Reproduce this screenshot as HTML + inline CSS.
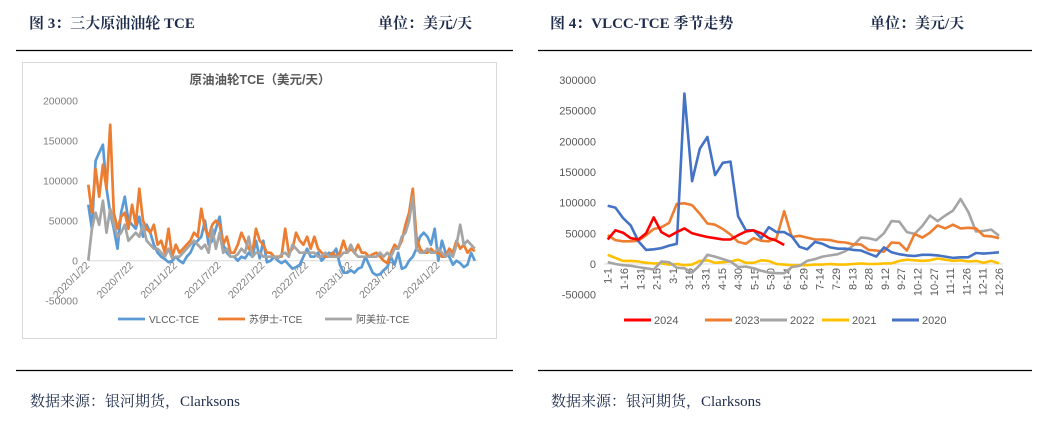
<!DOCTYPE html>
<html><head><meta charset="utf-8">
<style>
body{margin:0;background:#fff;width:1044px;height:427px;overflow:hidden;font-family:"Liberation Serif","Noto Serif CJK SC",serif;}
svg{position:absolute;left:0;top:0}
</style></head>
<body>
<svg id="s" width="1044" height="427" xmlns="http://www.w3.org/2000/svg">
<text x="29" y="28" font-size="15" font-weight="bold" fill="#1f2d4d" font-family="Liberation Serif, Noto Serif CJK SC, serif">图 3：三大原油油轮 TCE</text>
<text x="378" y="28" font-size="15" font-weight="bold" fill="#1f2d4d" font-family="Liberation Serif, Noto Serif CJK SC, serif">单位：美元/天</text>
<text x="550" y="28" font-size="15" font-weight="bold" fill="#1f2d4d" font-family="Liberation Serif, Noto Serif CJK SC, serif">图 4：VLCC-TCE 季节走势</text>
<text x="870" y="28" font-size="15" font-weight="bold" fill="#1f2d4d" font-family="Liberation Serif, Noto Serif CJK SC, serif">单位：美元/天</text>
<line x1="16" y1="50.5" x2="513" y2="50.5" stroke="#000" stroke-width="1.3"/>
<line x1="538" y1="50.5" x2="1032" y2="50.5" stroke="#000" stroke-width="1.3"/>
<line x1="16" y1="370.5" x2="513" y2="370.5" stroke="#000" stroke-width="1.3"/>
<line x1="538" y1="370.5" x2="1032" y2="370.5" stroke="#000" stroke-width="1.3"/>
<text x="30" y="406" font-size="15" fill="#1f2d4d">数据来源：银河期货，Clarksons</text>
<text x="551" y="406" font-size="15" fill="#1f2d4d">数据来源：银河期货，Clarksons</text>
<rect x="22.5" y="62.5" width="474" height="276" fill="none" stroke="#d9d9d9"/>
<text x="260" y="84" font-size="12.5" font-weight="bold" fill="#595959" text-anchor="middle" font-family="Liberation Sans, Noto Sans CJK SC, sans-serif">原油油轮TCE（美元/天）</text>
<g id="L"></g><g id="R"></g>
</svg>
<script>
const leftTicks=[-50000,0,50000,100000,150000,200000];
const leftDateLabels=["2020/1/22","2020/7/22","2021/1/22","2021/7/22","2022/1/22","2022/7/22","2023/1/22","2023/7/22","2024/1/22"];
const vlcc=[70,40,125,135,145,90,60,40,15,60,80,50,45,40,55,30,45,35,20,10,5,2,-2,0,5,0,-3,5,10,20,25,30,50,20,25,40,55,20,10,5,5,0,5,3,10,5,25,3,25,-2,0,5,0,-3,0,-5,-10,-8,-5,5,15,5,5,10,0,5,10,8,15,-5,-15,-15,-12,-15,-10,-8,5,-5,-15,-18,-17,-12,-8,5,-5,10,-10,-8,0,5,15,30,35,30,20,40,0,25,10,5,-5,0,-3,-8,-5,10,0];
const suez=[95,60,115,80,120,90,170,60,40,55,60,40,70,45,90,50,40,35,45,20,25,10,40,5,20,10,15,20,25,35,30,65,40,30,45,50,45,20,30,10,10,20,35,25,15,10,40,25,20,10,10,5,5,5,40,10,15,35,25,20,30,15,30,15,10,5,5,10,5,10,25,10,15,10,20,10,10,5,8,10,5,0,-3,10,20,15,25,45,60,90,30,15,10,10,15,10,10,5,5,15,10,25,15,20,10,15,12];
const aframax=[0,40,60,45,75,35,65,45,30,35,45,25,30,35,30,45,25,20,15,15,10,5,15,3,5,5,10,15,20,25,20,15,20,10,40,15,35,10,15,5,5,8,15,10,30,5,10,10,5,5,5,5,3,8,10,5,20,15,10,10,10,10,10,5,5,10,5,5,5,5,10,10,20,10,5,5,5,5,5,5,10,5,10,5,15,15,30,35,50,80,15,10,10,15,10,10,15,10,5,10,5,20,45,20,25,20,15];
const rightTicks=[-50000,0,50000,100000,150000,200000,250000,300000];
const rightDateLabels=["1-1","1-16","1-31","2-15","3-1","3-16","3-31","4-15","4-30","5-15","5-30","6-14","6-29","7-14","7-29","8-13","8-28","9-12","9-27","10-12","10-27","11-11","11-26","12-11","12-26"];
const y2024=[40,55,51,42,40,50,76,52,45,52,58,50,47,44,42,40,40,47,53,55,50,42,38,31];
const y2023=[47,39,37,37,38,47,57,60,67,98,99,96,82,66,64,57,48,36,33,42,38,37,42,86,44,46,43,40,40,39,36,35,32,32,23,22,20,35,34,22,49,43,51,63,58,64,58,59,58,46,45,42];
const y2022=[3,0,-2,-3,-5,-7,-9,4,3,-6,-7,-14,-2,15,12,8,4,-5,-4,-7,-11,-14,-15,-15,-5,-3,5,8,12,14,16,21,30,43,42,39,50,70,69,52,49,62,79,70,79,87,106,85,53,54,56,46];
const y2021=[15,10,5,5,4,2,1,1,-1,0,-2,-1,5,6,2,3,4,7,2,2,6,5,0,-1,-2,-2,-2,-1,-1,0,-1,-1,0,1,0,0,1,1,5,7,6,5,6,9,7,5,6,4,5,2,5,1];
const y2020=[95,92,75,63,37,23,24,26,30,33,278,135,188,207,145,165,167,78,55,55,42,60,52,52,45,28,24,36,33,27,25,25,23,22,17,12,27,19,16,14,13,15,15,14,12,10,11,11,18,17,18,19];

const NS="http://www.w3.org/2000/svg";
function mk(tag,attrs,parent){const e=document.createElementNS(NS,tag);for(const k in attrs)e.setAttribute(k,attrs[k]);parent.appendChild(e);return e;}
const SANS="Liberation Sans, Noto Sans CJK SC, sans-serif";

const L=document.getElementById('L');
const ly=v=>260.7-v/50000*40;
const lx=t=>88.3+t*(43.75/6);
leftTicks.forEach(v=>{
  const t=mk('text',{x:78,y:ly(v)+4,'font-size':10.5,fill:'#7f7f7f','text-anchor':'end','font-family':SANS},L);
  
  
  t.textContent=v;
});
const lb=mk('line',{x1:88,y1:ly(0),x2:478,y2:ly(0),stroke:'#d9d9d9','stroke-width':1},L);


leftDateLabels.forEach((s,i)=>{
  const x=lx(i*6)+2;
  const t=mk('text',{x:x,y:266,'font-size':10.5,fill:'#7f7f7f','text-anchor':'end','font-family':SANS,transform:`rotate(-45 ${x} 266)`},L);
  
  
  t.textContent=s;
});
function lpath(arr,color,name){
  const d=arr.map((v,i)=>(i?'L':'M')+lx(i*0.5).toFixed(1)+' '+ly(v*1000).toFixed(1)).join(' ');
  const p=mk('path',{d:d,fill:'none',stroke:color,'stroke-width':2.7,'stroke-linejoin':'round'},L);
  
  
}
lpath(vlcc,'#5b9bd5','vlcc-tce-line');
lpath(suez,'#ed7d31','suezmax-tce-line');
lpath(aframax,'#a5a5a5','aframax-tce-line');
[['#5b9bd5','VLCC-TCE',118],['#ed7d31','苏伊士-TCE',218],['#a5a5a5','阿美拉-TCE',325]].forEach(([c,s,x])=>{
  const l=mk('line',{x1:x,y1:319,x2:x+27,y2:319,stroke:c,'stroke-width':2.7},L);
  
  
  const t=mk('text',{x:x+31,y:323,'font-size':10,fill:'#595959','font-family':SANS},L);
  
  
  t.textContent=s;
});

const R=document.getElementById('R');
const ry=v=>264-v/50000*30.67;
const rx=w=>607.7+w*(999-607.7)/51;
rightTicks.forEach(v=>{
  const t=mk('text',{x:596,y:ry(v)+4,'font-size':11,fill:'#595959','text-anchor':'end','font-family':SANS},R);
  
  
  t.textContent=v;
});
const rb=mk('line',{x1:604,y1:ry(0),x2:1003,y2:ry(0),stroke:'#d9d9d9','stroke-width':1},R);


rightDateLabels.forEach((s,i)=>{
  const x=rx(i*51/24)+4;
  const t=mk('text',{x:x,y:268,'font-size':11,fill:'#595959','text-anchor':'end','font-family':SANS,transform:`rotate(-90 ${x} 268)`},R);
  
  
  t.textContent=s;
});
function rpath(arr,color,name){
  const d=arr.map((v,i)=>(i?'L':'M')+rx(i).toFixed(1)+' '+ry(v*1000).toFixed(1)).join(' ');
  const p=mk('path',{d:d,fill:'none',stroke:color,'stroke-width':2.6,'stroke-linejoin':'round'},R);
  
  
}
rpath(y2021,'#ffc000','series-2021-line');
rpath(y2022,'#a5a5a5','series-2022-line');
rpath(y2023,'#ed7d31','series-2023-line');
rpath(y2020,'#4472c4','series-2020-line');
rpath(y2024,'#ff0000','series-2024-line');
[['#ff0000','2024',624],['#ed7d31','2023',705],['#a5a5a5','2022',760],['#ffc000','2021',822],['#4472c4','2020',892]].forEach(([c,s,x])=>{
  const l=mk('line',{x1:x,y1:320,x2:x+27,y2:320,stroke:c,'stroke-width':3},R);
  
  
  const t=mk('text',{x:x+30,y:324,'font-size':11,fill:'#595959','font-family':SANS},R);
  
  
  t.textContent=s;
});
</script>
</body></html>
